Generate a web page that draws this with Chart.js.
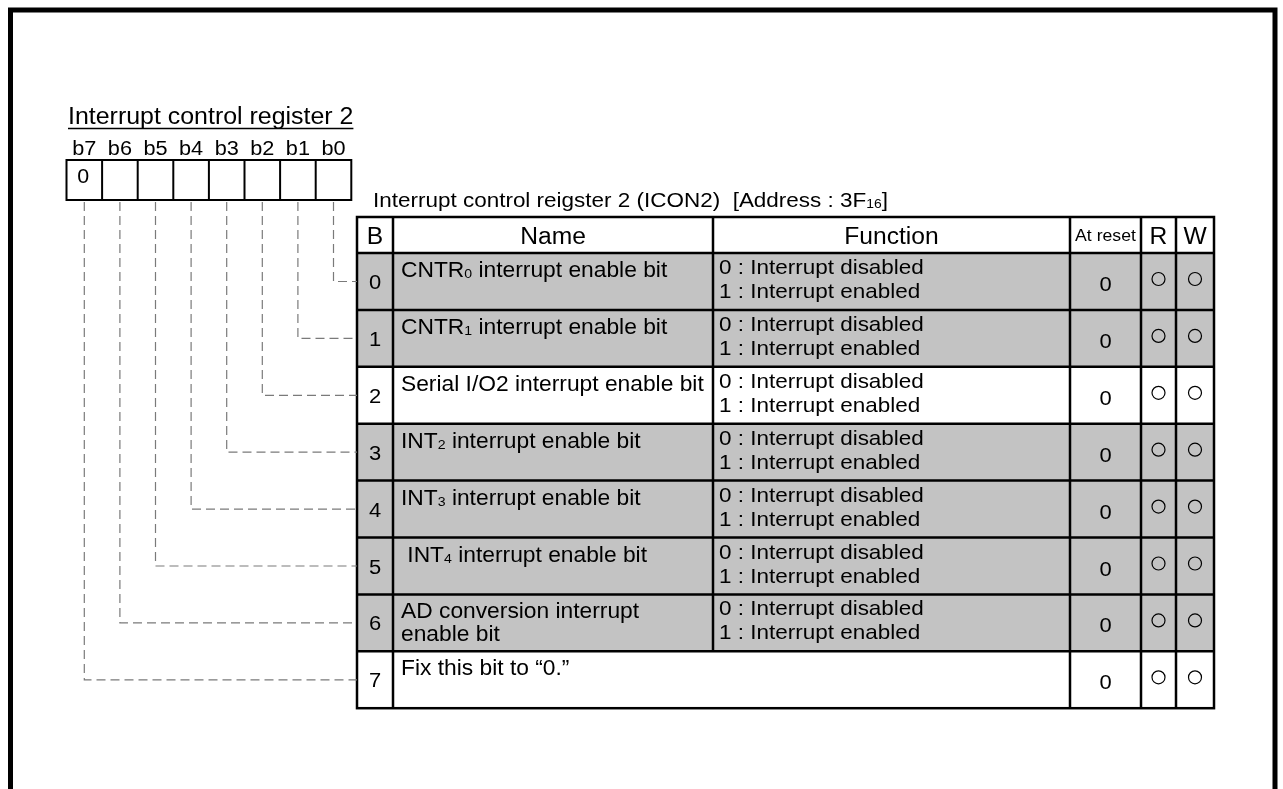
<!DOCTYPE html>
<html>
<head>
<meta charset="utf-8">
<script src="https://cdn.jsdelivr.net/npm/chart.js@4.4.1/dist/chart.umd.min.js"></script>
<style>
  html, body { margin: 0; padding: 0; background: #fff; }
  canvas { display: block; }
</style>
</head>
<body>
<canvas id="regChart" width="1283" height="789"></canvas>
<script>
// register data, {x} marks a subscript
const registerTitle = "Interrupt control register 2";
const tableTitle = "Interrupt control reigster 2 (ICON2)  [Address : 3F{16}]";
const bitLabels = ["b7", "b6", "b5", "b4", "b3", "b2", "b1", "b0"];
const bitValues = ["0", "", "", "", "", "", "", ""];
const headerLabels = ["B", "Name", "Function", "At reset", "R", "W"];
const rowBits = ["0", "1", "2", "3", "4", "5", "6", "7"];
const rowNames = [
  ["CNTR{0} interrupt enable bit"],
  ["CNTR{1} interrupt enable bit"],
  ["Serial I/O2 interrupt enable bit"],
  ["INT{2} interrupt enable bit"],
  ["INT{3} interrupt enable bit"],
  [" INT{4} interrupt enable bit"],
  ["AD conversion interrupt", "enable bit"],
  ["Fix this bit to \u201c0.\u201d"]
];
const rowFunctions = [
  ["0 : Interrupt disabled", "1 : Interrupt enabled"],
  ["0 : Interrupt disabled", "1 : Interrupt enabled"],
  ["0 : Interrupt disabled", "1 : Interrupt enabled"],
  ["0 : Interrupt disabled", "1 : Interrupt enabled"],
  ["0 : Interrupt disabled", "1 : Interrupt enabled"],
  ["0 : Interrupt disabled", "1 : Interrupt enabled"],
  ["0 : Interrupt disabled", "1 : Interrupt enabled"],
  null
];
const rowReset = ["0", "0", "0", "0", "0", "0", "0", "0"];
const rowRead = [true, true, true, true, true, true, true, true];
const rowWrite = [true, true, true, true, true, true, true, true];
const rowShaded = [true, true, false, true, true, true, true, false];

// layout
const W = 1283, H = 789;
const FONT = "'Liberation Sans', Arial, sans-serif";
const STRETCH = 1.07; // text in the figure is a bit wider than plain Arial
const boxLeft = 66.5, boxWidth = 35.6, boxTop = 160, boxBottom = 200;
const tableCols = [357, 393, 713, 1070, 1141, 1176, 1214];
const tableTop = 217, headerBottom = 253, rowHeight = 56.9;

function bitCenter(i) { return boxLeft + boxWidth * (i + 0.5); }
function rowTop(r) { return headerBottom + rowHeight * r; }
function colCenter(c) { return (tableCols[c] + tableCols[c + 1]) / 2; }

function parseRich(str) {
  const parts = [];
  const re = /\{([^}]*)\}|([^{]+)/g;
  let m;
  while ((m = re.exec(str)) !== null) {
    if (m[1] !== undefined) parts.push({ text: m[1], sub: true });
    else parts.push({ text: m[2], sub: false });
  }
  return parts;
}

function drawRich(ctx, str, x, y, size, align) {
  const parts = parseRich(str);
  let total = 0;
  parts.forEach(function (p) {
    ctx.font = (p.sub ? size * 0.62 : size) + "px " + FONT;
    p.w = ctx.measureText(p.text).width;
    total += p.w;
  });
  const x0 = align === "center" ? x - total * STRETCH / 2 : x;
  ctx.save();
  ctx.translate(x0, y);
  ctx.scale(STRETCH, 1);
  ctx.textAlign = "left";
  ctx.textBaseline = "alphabetic";
  let cx = 0;
  parts.forEach(function (p) {
    ctx.font = (p.sub ? size * 0.62 : size) + "px " + FONT;
    ctx.fillText(p.text, cx, p.sub ? 1 : 0);
    cx += p.w;
  });
  ctx.restore();
  return total * STRETCH;
}

const tablePlugin = {
  id: "registerTable",
  beforeDatasetsDraw(chart) {
    const ctx = chart.ctx;
    const xs = chart.scales.x, ys = chart.scales.y;
    const px = function (v) { return xs.getPixelForValue(v); };
    const py = function (v) { return ys.getPixelForValue(v); };
    const rect = function (x0, y0, x1, y1) {
      return [px(x0), py(y0), px(x1) - px(x0), py(y1) - py(y0)];
    };
    const line = function (x0, y0, x1, y1) {
      ctx.beginPath();
      ctx.moveTo(px(x0), py(y0));
      ctx.lineTo(px(x1), py(y1));
      ctx.stroke();
    };
    ctx.save();

    // outer frame
    ctx.strokeStyle = "#000";
    ctx.lineWidth = 5;
    ctx.beginPath();
    ctx.moveTo(px(10.5), py(H));
    ctx.lineTo(px(10.5), py(10));
    ctx.lineTo(px(1275), py(10));
    ctx.lineTo(px(1275), py(H));
    ctx.stroke();

    ctx.fillStyle = "#000";
    // register title, underlined
    const tw = drawRich(ctx, registerTitle, px(68), py(124), 23.3, "left");
    ctx.lineWidth = 1.5;
    line(68, 128.5, 68 + tw, 128.5);

    // bit boxes
    bitLabels.forEach(function (lab, i) {
      drawRich(ctx, lab, px(bitCenter(i)), py(155), 20.3, "center");
      if (bitValues[i]) drawRich(ctx, bitValues[i], px(bitCenter(i)) - 1, py(183), 20, "center");
    });
    ctx.lineWidth = 2;
    ctx.strokeRect.apply(ctx, rect(boxLeft, boxTop, boxLeft + boxWidth * 8, boxBottom));
    for (let i = 1; i < 8; i++) line(boxLeft + boxWidth * i, boxTop, boxLeft + boxWidth * i, boxBottom);

    // table caption
    drawRich(ctx, tableTitle, px(373), py(207), 21, "left");

    // row shading
    const tableBottom = rowTop(rowBits.length);
    ctx.fillStyle = "#c3c3c3";
    rowShaded.forEach(function (s, r) {
      if (s) ctx.fillRect.apply(ctx, rect(tableCols[0], rowTop(r), tableCols[6], rowTop(r + 1)));
    });

    // grid
    ctx.strokeStyle = "#000";
    ctx.lineWidth = 2.5;
    ctx.strokeRect.apply(ctx, rect(tableCols[0], tableTop, tableCols[6], tableBottom));
    for (let r = 0; r < rowBits.length; r++) line(tableCols[0], rowTop(r), tableCols[6], rowTop(r));
    for (let c = 1; c < 6; c++) {
      // last row spans name + function
      const end = c === 2 ? rowTop(rowBits.length - 1) : tableBottom;
      line(tableCols[c], tableTop, tableCols[c], end);
    }

    // header
    ctx.fillStyle = "#000";
    headerLabels.forEach(function (h, c) {
      if (c === 3) drawRich(ctx, h, px(colCenter(c)), py(241), 16.5, "center");
      else drawRich(ctx, h, px(colCenter(c)), py(244), 23, "center");
    });

    // rows
    rowBits.forEach(function (b, r) {
      const t = rowTop(r);
      drawRich(ctx, b, px(colCenter(0)), py(t + 36), 20.5, "center");
      rowNames[r].forEach(function (txt, k) {
        drawRich(ctx, txt, px(401), py(t + 24 + k * 23), 21.3, "left");
      });
      if (rowFunctions[r]) {
        rowFunctions[r].forEach(function (txt, k) {
          drawRich(ctx, txt, px(719), py(t + 21 + k * 24), 21, "left");
        });
      }
      drawRich(ctx, rowReset[r], px(colCenter(3)), py(t + 38), 20.5, "center");
    });
    ctx.restore();
  }
};

// dashed leaders from each bit box to its row
const leaderSets = bitLabels.map(function (lab, i) {
  const bit = 7 - i;
  const y = rowTop(bit) + 28.5;
  return {
    type: "line",
    label: lab,
    data: [
      { x: bitCenter(i), y: boxBottom + 2 },
      { x: bitCenter(i), y: y },
      { x: tableCols[0], y: y }
    ],
    borderColor: "#7a7a7a",
    borderWidth: 1.2,
    borderDash: [9, 5],
    pointRadius: 0,
    tension: 0,
    fill: false
  };
});

// R / W marks
const marks = [];
rowBits.forEach(function (b, r) {
  if (rowRead[r]) marks.push({ x: colCenter(4), y: rowTop(r) + 26 });
  if (rowWrite[r]) marks.push({ x: colCenter(5), y: rowTop(r) + 26 });
});

const regChart = new Chart(document.getElementById("regChart"), {
  type: "scatter",
  data: {
    datasets: leaderSets.concat([{
      label: "R/W",
      data: marks,
      pointStyle: "circle",
      pointRadius: 6.5,
      pointBorderWidth: 1.2,
      borderColor: "#000",
      backgroundColor: "rgba(0,0,0,0)",
      pointBackgroundColor: "rgba(0,0,0,0)",
      pointBorderColor: "#000"
    }])
  },
  options: {
    responsive: false,
    animation: false,
    events: [],
    layout: { padding: 0, autoPadding: false },
    plugins: { legend: { display: false }, tooltip: { enabled: false } },
    scales: {
      x: { type: "linear", min: 0, max: W, display: false },
      y: { type: "linear", min: 0, max: H, reverse: true, display: false }
    }
  },
  plugins: [tablePlugin]
});
</script>
</body>
</html>
